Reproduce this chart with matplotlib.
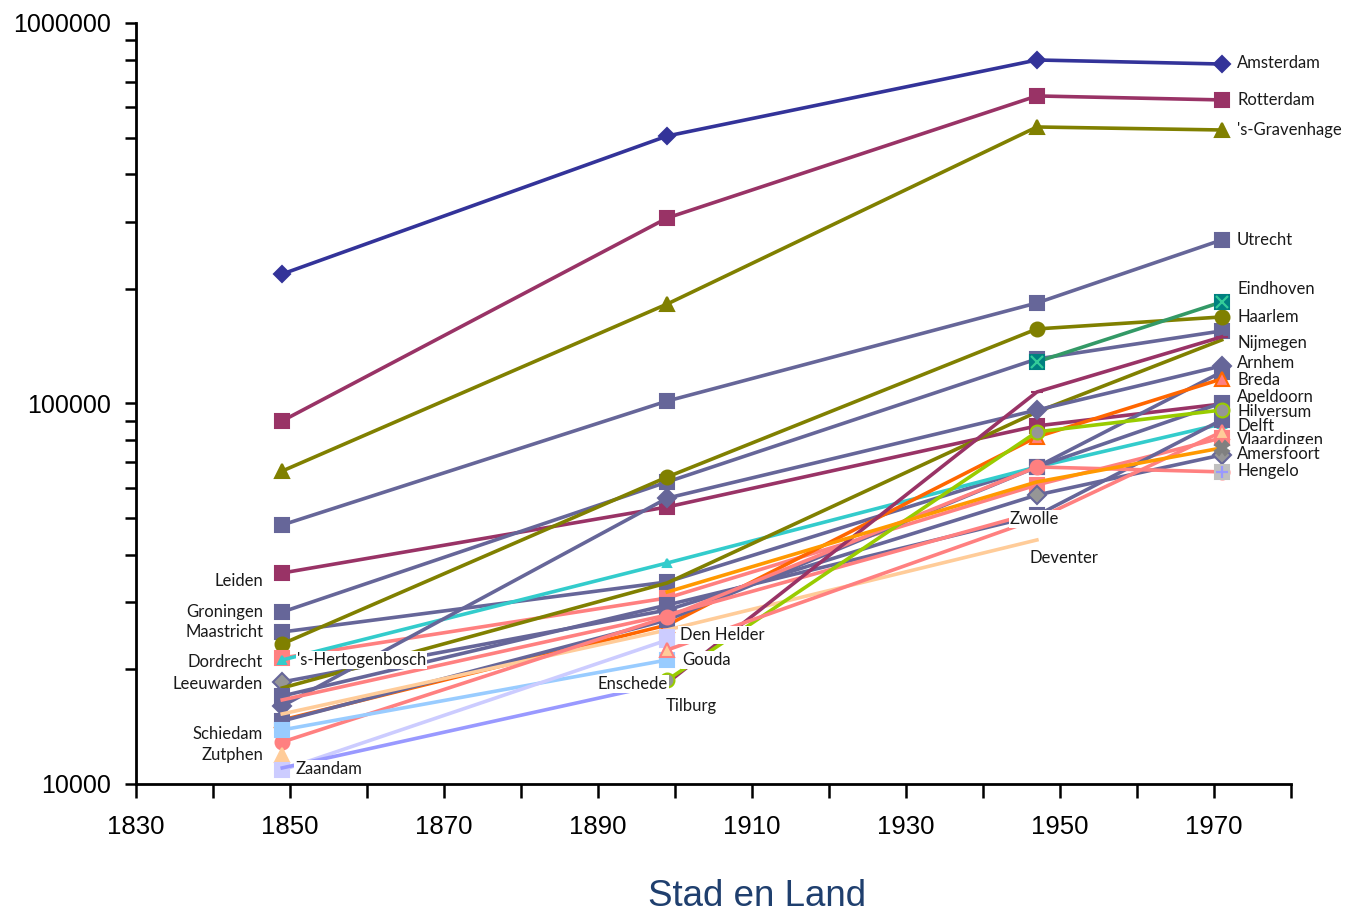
import numpy as np
import matplotlib
matplotlib.use("Agg")
import matplotlib.pyplot as plt
from matplotlib.ticker import FixedLocator, NullFormatter

nan = np.nan

# census years
years = [1849, 1899, 1947, 1971]

# population per city (nan = not in chart)
amsterdam = [218900, 504700, 799300, 780000]
rotterdam = [90000, 307300, 643000, 627700]
gravenhage = [66450, 182600, 532900, 523300]
utrecht = [47950, 101500, 183700, 269000]
leiden = [35850, 53460, 87300, 99700]
groningen = [28310, 62200, 130900, 155100]
maastricht = [25090, 33960, 68100, 121000]
haarlem = [23340, 64100, 157000, 168800]
dordrecht = [21440, 30820, 61080, 81160]
hertogenbosch = [21180, 38090, 68100, 88340]
leeuwarden = [18540, 28660, 57470, 73220]
nijmegen = [17880, 33760, 95000, 146900]
arnhem = [16030, 56400, 96100, 125500]
breda = [14730, 26170, 81700, 116000]
apeldoorn = [14640, 26980, 68100, 100300]
delft = [17030, 29540, 50800, 90500]
zwolle = [16630, 27810, 51860, nan]
deventer = [15280, 25400, 43780, nan]
schiedam = [12890, 27470, 68100, 66100]
gouda = [13870, 21180, nan, nan]
zutphen = [11920, nan, nan, nan]
zaandam = [10880, 23900, nan, nan]
enschede = [11020, 18430, nan, nan]
den_helder = [nan, 24340, nan, nan]
tilburg = [nan, 18430, 107200, 149600]
hilversum = [nan, 18760, 84200, 96100]
vlaardingen = [nan, 22500, 49700, 84200]
amersfoort = [nan, 31960, 62200, 76400]
eindhoven = [nan, nan, 128600, 184800]
hengelo = [nan, nan, nan, 66100]

series = [
    ("Amsterdam", amsterdam), ("Rotterdam", rotterdam), ("'s-Gravenhage", gravenhage),
    ("Utrecht", utrecht), ("Leiden", leiden), ("Groningen", groningen),
    ("Maastricht", maastricht), ("Haarlem", haarlem), ("Dordrecht", dordrecht),
    ("'s-Hertogenbosch", hertogenbosch), ("Leeuwarden", leeuwarden),
    ("Nijmegen", nijmegen), ("Arnhem", arnhem), ("Breda", breda),
    ("Apeldoorn", apeldoorn), ("Delft", delft), ("Zwolle", zwolle),
    ("Deventer", deventer), ("Schiedam", schiedam), ("Gouda", gouda),
    ("Zutphen", zutphen), ("Zaandam", zaandam), ("Enschede", enschede),
    ("Den Helder", den_helder), ("Tilburg", tilburg), ("Hilversum", hilversum),
    ("Vlaardingen", vlaardingen), ("Amersfoort", amersfoort),
    ("Eindhoven", eindhoven), ("Hengelo", hengelo),
]

# line colour, marker, marker face, marker edge, marker size
styles = {
    "Amsterdam": ("#333399", "D", "#333399", "#333399", 8),
    "Rotterdam": ("#993366", "s", "#993366", "#993366", 10),
    "'s-Gravenhage": ("#808000", "^", "#808000", "#808000", 10),
    "Utrecht": ("#666699", "s", "#666699", "#666699", 10),
    "Leiden": ("#993366", "s", "#993366", "#993366", 10),
    "Groningen": ("#666699", "s", "#666699", "#666699", 10),
    "Maastricht": ("#666699", "s", "#666699", "#666699", 10),
    "Haarlem": ("#808000", "o", "#808000", "#808000", 10),
    "Dordrecht": ("#FF8080", "s", "#FF8080", "#FF8080", 10),
    "'s-Hertogenbosch": ("#33CCCC", "^", "#33CCCC", "#33CCCC", 6),
    "Leeuwarden": ("#666699", "D", "#969696", "#666699", 9),
    "Nijmegen": ("#808000", "", "#808000", "#808000", 0),
    "Arnhem": ("#666699", "D", "#666699", "#666699", 9),
    "Breda": ("#FF6600", "^", "#FF8080", "#FF6600", 10),
    "Apeldoorn": ("#666699", "s", "#666699", "#666699", 10),
    "Delft": ("#666699", "s", "#666699", "#666699", 10),
    "Zwolle": ("#FF8080", "", "#FF8080", "#FF8080", 0),
    "Deventer": ("#FFCC99", "", "#FFCC99", "#FFCC99", 0),
    "Schiedam": ("#FF8080", "o", "#FF8080", "#FF8080", 10),
    "Gouda": ("#99CCFF", "s", "#99CCFF", "#99CCFF", 10),
    "Zutphen": ("#FFCC99", "^", "#FFCC99", "#FFCC99", 10),
    "Zaandam": ("#CCCCFF", "s", "#CCCCFF", "#CCCCFF", 10),
    "Enschede": ("#9999FF", "", "#9999FF", "#9999FF", 0),
    "Den Helder": ("#CCCCFF", "s", "#CCCCFF", "#CCCCFF", 10),
    "Tilburg": ("#993366", "_", "#993366", "#993366", 8),
    "Hilversum": ("#99CC00", "o", "#969696", "#99CC00", 10),
    "Vlaardingen": ("#FF8080", "^", "#FFCC99", "#FF8080", 10),
    "Amersfoort": ("#FF9900", "X", "#808080", "#808080", 10),
    "Eindhoven": ("#339966", "s", "#008080", "#008080", 10),
    "Hengelo": ("#9999FF", "s", "#C0C0C0", "#C0C0C0", 10),
}

# points that get a marker, when not all of them
mark_only = {"Amersfoort": [3]}

# extra glyph drawn over some markers
overlay = {"Eindhoven": ("x", "#33CC99"), "Hengelo": ("+", "#9999FF")}

# data labels: text, year, value, alignment
labels = [
    ("Amsterdam", 1973, 785000, "left"), ("Rotterdam", 1973, 627700, "left"),
    ("'s-Gravenhage", 1973, 523300, "left"), ("Utrecht", 1973, 269000, "left"),
    ("Eindhoven", 1973, 200000, "left"), ("Haarlem", 1973, 168800, "left"),
    ("Nijmegen", 1973, 144200, "left"), ("Arnhem", 1973, 127500, "left"),
    ("Breda", 1973, 115300, "left"), ("Apeldoorn", 1973, 104000, "left"),
    ("Hilversum", 1973, 95000, "left"), ("Delft", 1973, 87500, "left"),
    ("Vlaardingen", 1973, 80200, "left"), ("Amersfoort", 1973, 73800, "left"),
    ("Hengelo", 1973, 66450, "left"),
    ("Leiden", 1846.5, 34170, "right"), ("Groningen", 1846.5, 28310, "right"),
    ("Maastricht", 1846.5, 25090, "right"), ("Dordrecht", 1846.5, 20930, "right"),
    ("Leeuwarden", 1846.5, 18310, "right"), ("Schiedam", 1846.5, 13530, "right"),
    ("Zutphen", 1846.5, 11920, "right"), ("Zaandam", 1850.7, 10950, "left"),
    ("'s-Hertogenbosch", 1850.9, 21180, "left"),
    ("Den Helder", 1900.6, 24640, "left"), ("Gouda", 1900.9, 21180, "left"),
    ("Enschede", 1899.0, 18310, "right"), ("Tilburg", 1898.8, 16030, "left"),
    ("Zwolle", 1946.7, 49730, "center"), ("Deventer", 1946.1, 39260, "left"),
]

fig = plt.figure(figsize=(13.5, 9.15), dpi=100)
ax = fig.add_axes([0.1007, 0.1432, 0.8556, 0.8317])

for name, vals in series:
    col, mk, mfc, mec, ms = styles[name]
    ax.plot(years, vals, color=col, lw=2.6, marker=mk if mk else None,
            markerfacecolor=mfc, markeredgecolor=mec, markersize=ms,
            markeredgewidth=1.5, markevery=mark_only.get(name),
            solid_joinstyle="round", clip_on=False)
    if name in overlay:
        omk, ocol = overlay[name]
        ax.plot(years, vals, ls="none", marker=omk, color=ocol,
                markersize=9, markeredgewidth=1.6, clip_on=False)

for text, x, y, ha in labels:
    ax.text(x, y, text, ha=ha, va="center", fontsize=12,
            family="Lato", color="#1a1a1a", zorder=10,
            bbox=dict(fc="white", ec="none", pad=1.0))

ax.set_yscale("log")
ax.set_ylim(10000, 1000000)
ax.set_xlim(1830, 1980)
ax.set_yticks([10000, 100000, 1000000])
ax.set_yticklabels(["10000", "100000", "1000000"])
minor = [m * 10 ** e for e in (4, 5) for m in range(2, 10)]
ax.yaxis.set_minor_locator(FixedLocator(minor))
ax.yaxis.set_minor_formatter(NullFormatter())
ax.set_xticks(np.arange(1830, 1971, 20))
ax.xaxis.set_minor_locator(FixedLocator(np.arange(1840, 1981, 10)))

for side in ("top", "right"):
    ax.spines[side].set_visible(False)
for side in ("left", "bottom"):
    ax.spines[side].set_linewidth(2)
    ax.spines[side].set_color("black")

ax.tick_params(axis="y", which="both", direction="out", length=8, width=1.8,
               labelsize=18, pad=10)
ax.tick_params(axis="x", which="both", direction="out", length=10, width=1.8,
               labelsize=18.5, pad=12)
for t in ax.get_xticklabels() + ax.get_yticklabels():
    t.set_family("Liberation Sans")

fig.text(757 / 1350, 1 - 897 / 915, "Stad en Land", ha="center", va="center",
         fontsize=26.5, color="#1F3F6E", family="Liberation Sans")

fig.savefig("out.png", dpi=100)
